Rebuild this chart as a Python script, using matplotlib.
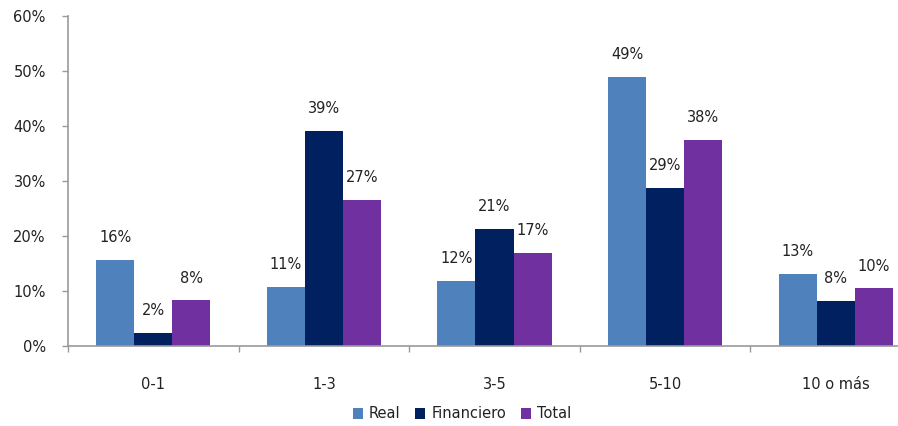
import numpy as np
import matplotlib.pyplot as plt
from matplotlib.ticker import FixedLocator, PercentFormatter

# share of each group by term range (percent)
categories = ["0-1", "1-3", "3-5", "5-10", "10 o más"]
real = [15.7, 10.8, 11.8, 48.9, 13.1]
financiero = [2.4, 39.1, 21.3, 28.7, 8.2]
total = [8.3, 26.6, 16.9, 37.5, 10.5]

series = [("Real", real, "#4F81BD"),
          ("Financiero", financiero, "#00205F"),
          ("Total", total, "#7030A0")]

fig = plt.figure(figsize=(8.98, 4.26), dpi=100)
ax = fig.add_axes([68 / 898, 80 / 426, 853 / 898, 330 / 426])

x = np.arange(len(categories))
width = 0.223
for k, (name, vals, color) in enumerate(series):
    pos = x + (k - 1) * width
    ax.bar(pos, vals, width=width, color=color, label=name, zorder=2)
    for px, v in zip(pos, vals):
        ax.annotate(f"{v:.0f}%", (px, v), xytext=(0, 16), textcoords="offset points",
                    ha="center", va="center", fontsize=10.5, color="#222222")

ax.set_xlim(-0.5, len(categories) - 0.5)
ax.set_ylim(0, 60)
ax.set_yticks(np.arange(0, 61, 10))
ax.yaxis.set_major_formatter(PercentFormatter(decimals=0))
ax.set_xticks(x)
ax.set_xticklabels(categories)
ax.xaxis.set_minor_locator(FixedLocator(np.arange(-0.5, len(categories), 1.0)))

for side in ("top", "right"):
    ax.spines[side].set_visible(False)
for side in ("left", "bottom"):
    ax.spines[side].set_color("#999999")
    ax.spines[side].set_linewidth(1.2)

ax.tick_params(axis="y", length=4, width=1, color="#999999", pad=12,
               labelsize=10.5, labelcolor="#222222")
ax.tick_params(axis="x", which="major", length=0, pad=22,
               labelsize=10.5, labelcolor="#222222")
ax.tick_params(axis="x", which="minor", length=4, width=1, color="#999999")

fig.legend(loc="center", bbox_to_anchor=(462 / 898, 12 / 426), ncol=3,
           frameon=False, fontsize=10.5, handlelength=0.7, handleheight=0.7,
           handletextpad=0.4, columnspacing=1.0, labelcolor="#222222",
           borderpad=0.2)

fig.savefig("out.png", dpi=100)
